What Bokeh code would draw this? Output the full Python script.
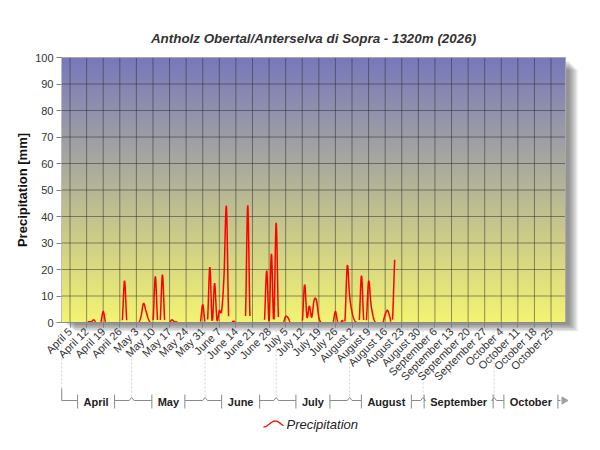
import numpy as np
from bokeh.plotting import figure
from bokeh.models import Range1d, FixedTicker
from bokeh.embed import file_html
from bokeh.resources import INLINE
from bokeh.core.properties import value

# ---------------- data ----------------
title_text = "Antholz Obertal/Anterselva di Sopra - 1320m (2026)"
y_label = "Precipitation [mm]"
series_name = "Precipitation"

# daily precipitation [mm], index 0 = April 1, last value = August 20
precip = [
    0, 0, 0, 0, 0, 0, 0, 0, 0, 0, 0, 0,            # Apr 1-12
    0.3, 0.3, 1.0, 0, 0, 0, 4.2,                   # Apr 13-19
    0, 0, 0, 0, 0, 0, 0, 0,                        # Apr 20-27
    15.8,                                          # Apr 28
    0, 0, 0, 0, 0, 0,                              # Apr 29 - May 4
    2.5, 7.2, 4.5, 1.5, 0, 0, 17.4, 0, 0, 18.0,    # May 5-14
    0, 0, 0, 1.0, 0.3, 0.2,                        # May 15-20
    0, 0, 0, 0, 0, 0, 0, 0, 0, 0,                  # May 21-30
    6.7, 0, 0, 20.9, 0, 14.8, 1.0, 4.5, 4.5, 18.0, 43.8, 0, 0, 0.5,  # May 31 - Jun 13
    0, 0, 0, 0, 0,                                 # Jun 14-18
    44.2,                                          # Jun 19
    0, 0, 0, 0, 0, 0, 0,                           # Jun 20-26
    19.6, 0.5, 25.9, 0, 37.6,                      # Jun 27 - Jul 1
    0, 0, 0, 2.3, 1.8,                             # Jul 2-6
    0, 0, 0, 0, 0, 0,                              # Jul 7-12
    14.3, 2.0, 6.2, 2.0, 8.4, 8.4, 2.0,            # Jul 13-19
    0, 0, 0, 0, 0, 0,                              # Jul 20-25
    4.2, 0, 0, 0.8, 0.4, 21.5, 10.0, 4.0, 1.0, 0, 0, 17.7, 0, 0, 15.6, 7.0, 2.0,  # Jul 26 - Aug 11
    0, 0, 0, 0,                                    # Aug 12-15
    3.0, 4.6, 2.0, 0, 23.7,                        # Aug 16-20
]
day_index = list(range(len(precip)))

tick_days = list(range(4, 208, 7))
tick_labels = ["April 5", "April 12", "April 19", "April 26",
               "May 3", "May 10", "May 17", "May 24", "May 31",
               "June 7", "June 14", "June 21", "June 28",
               "July 5", "July 12", "July 19", "July 26",
               "August 2", "August 9", "August 16", "August 23", "August 30",
               "September 6", "September 13", "September 20", "September 27",
               "October 4", "October 11", "October 18", "October 25"]
y_ticks = [0, 10, 20, 30, 40, 50, 60, 70, 80, 90, 100]

month_names = ["April", "May", "June", "July", "August", "September", "October"]
month_start = [0, 30, 61, 91, 122, 153, 183]
month_end = [30, 61, 91, 122, 153, 183, 214]

# ---------------- layout constants ----------------
FONT = "Liberation Sans"
W, H = 596, 446
LEFT, TOP = 61, 57
PLOT_R, PLOT_B = 565, 322          # plot-area right / bottom edge (px)
DAY0, DAY1 = 0.4, 213.1
Y0, Y1 = 0, 100
PPD = (PLOT_R - LEFT) / (DAY1 - DAY0)    # px per day
PPM = (PLOT_B - TOP) / (Y1 - Y0)         # px per mm


def dx(px):      # pixel column -> day coordinate
    return (px - LEFT) / PPD + DAY0


def dy(py):      # pixel row -> mm coordinate
    return (PLOT_B - py) / PPM


def catmull_rom(x, y, n=12):
    x = np.asarray(x, float)
    y = np.asarray(y, float)
    m = np.zeros_like(y)
    m[1:-1] = (y[2:] - y[:-2]) / 2.0
    m[0] = y[1] - y[0]
    m[-1] = y[-1] - y[-2]
    xs, ys = [], []
    for i in range(len(x) - 1):
        t = np.linspace(0, 1, n, endpoint=False)
        h00 = 2 * t**3 - 3 * t**2 + 1
        h10 = t**3 - 2 * t**2 + t
        h01 = -2 * t**3 + 3 * t**2
        h11 = t**3 - t**2
        xs.extend(x[i] + t * (x[i + 1] - x[i]))
        ys.extend(h00 * y[i] + h10 * m[i] + h01 * y[i + 1] + h11 * m[i + 1])
    xs.append(x[-1])
    ys.append(y[-1])
    return np.array(xs), np.array(ys)


p = figure(width=W, height=H, x_range=Range1d(dx(0), dx(W)), y_range=Range1d(dy(H), dy(0)),
           output_backend="svg", toolbar_location=None,
           min_border_left=0, min_border_right=0, min_border_top=0, min_border_bottom=0)
p.title.visible = False
p.background_fill_color = "white"
p.border_fill_color = "white"
p.outline_line_color = None
p.grid.visible = False

# soft drop shadow of the plot area
for k in (3, 5, 7, 9, 11):
    p.quad(left=dx(LEFT + k + 2), right=dx(PLOT_R + k + 1), top=dy(TOP + k + 1), bottom=dy(PLOT_B + k * 0.8),
           fill_color="#000000", fill_alpha=0.1, line_color=None, level="image")

# vertical gradient background of the plot area
n = 256
tt = np.linspace(0, 1, n)[:, None]
c_bot = np.array([244, 244, 114])
c_top = np.array([120, 120, 188])
cols = (c_bot + (c_top - c_bot) * tt).astype(np.uint8)
img = np.zeros((n, 1), dtype=np.uint32)
view = img.view(dtype=np.uint8).reshape((n, 1, 4))
view[:, 0, 0] = cols[:, 0]
view[:, 0, 1] = cols[:, 1]
view[:, 0, 2] = cols[:, 2]
view[:, 0, 3] = 255
p.image_rgba(image=[img], x=DAY0, y=Y0, dw=DAY1 - DAY0, dh=Y1 - Y0, level="image")

# grid lines (inside the plot area only)
p.segment(x0=tick_days, x1=tick_days, y0=[Y0] * len(tick_days), y1=[Y1] * len(tick_days),
          line_color="#2a2a2a", line_alpha=0.5, line_width=1)
p.segment(x0=[DAY0] * len(y_ticks), x1=[DAY1] * len(y_ticks), y0=y_ticks, y1=y_ticks,
          line_color="#2a2a2a", line_alpha=0.5, line_width=1)

# precipitation spline (parts at / below zero are hidden by the axis band)
sx, sy = catmull_rom(day_index, precip)
sy = np.where(sy < 0.12, np.nan, sy)
p.line(sx, sy, line_color="#ff0000", line_width=1.5)

# plot-area border
p.quad(left=[DAY0], right=[DAY1], top=[Y1], bottom=[Y0], fill_color=None,
       line_color="#a8a8a8", line_width=1)

# title and y-axis title
p.text(x=[dx(313)], y=[dy(38)], text=[title_text], text_align="center", text_baseline="middle",
       text_font=value(FONT), text_font_size="13.4px", text_font_style="bold italic",
       text_color="#333333")
p.text(x=[dx(22)], y=[dy(189.5)], text=[y_label], angle=np.pi / 2,
       text_align="center", text_baseline="middle",
       text_font=value(FONT), text_font_size="13px", text_font_style="bold",
       text_color="#111111")

# axes (placed at the plot-area edges)
p.xaxis.ticker = FixedTicker(ticks=tick_days)
p.xaxis.major_label_overrides = {d: lab for d, lab in zip(tick_days, tick_labels)}
p.xaxis.major_label_orientation = np.pi / 4
p.xaxis.fixed_location = Y0
p.xaxis.bounds = (DAY0, DAY1)
p.yaxis.ticker = FixedTicker(ticks=y_ticks)
p.yaxis.fixed_location = DAY0
p.yaxis.bounds = (Y0, Y1)
for ax in (p.xaxis, p.yaxis):
    ax.major_label_text_font = FONT
    ax.major_label_text_font_size = "11px"
    ax.major_label_text_color = "#333333"
    ax.minor_tick_line_color = None
    ax.major_tick_in = 0
    ax.major_tick_out = 5
    ax.major_tick_line_color = "#808080"
p.yaxis.axis_line_color = "#bdbdbd"
p.xaxis.axis_line_color = "#8a8a8a"
p.yaxis.major_label_standoff = 3
p.xaxis.major_label_standoff = 2

# ---------------- month band ----------------
label_px = {"April": 25, "May": 21, "June": 26, "July": 22, "August": 38,
            "September": 57, "October": 42}
Y_LINE, Y_CARET, Y_T0, Y_T1, Y_TALL, Y_DASH0 = 400, 397, 394, 408, 388, 330
lefts, rights, centers = [], [], []
for name, s, e in zip(month_names, month_start, month_end):
    c = (s + e) / 2
    hw = (label_px[name] / 2 + 6) / PPD
    lefts.append(max(c - hw, s))
    rights.append(min(c + hw, e))
    centers.append(c)

solid_x, solid_y = [], []
dash_x, dash_y = [], []
x_first = DAY0 + 0.1
dash_x.append([x_first, x_first]); dash_y.append([dy(Y_DASH0), dy(Y_TALL)])
solid_x.append([x_first, x_first, lefts[0]]); solid_y.append([dy(Y_TALL), dy(Y_LINE), dy(Y_LINE)])
for i in range(len(month_names)):
    l, r, s, e = lefts[i], rights[i], month_start[i], month_end[i]
    if l > s + 1e-6:
        solid_x.append([l, l]); solid_y.append([dy(Y_T0), dy(Y_T1)])
    if r < e - 1e-6:
        solid_x.append([r, r]); solid_y.append([dy(Y_T0), dy(Y_T1)])
    if i + 1 < len(month_names):
        b = e
        nl = lefts[i + 1]
        if r >= b - 1e-6 or nl <= b + 1e-6:
            dash_x.append([b, b]); dash_y.append([dy(Y_DASH0), dy(Y_TALL)])
            solid_x.append([b, b]); solid_y.append([dy(Y_TALL), dy(Y_T1)])
            if r < b:
                solid_x.append([r, b]); solid_y.append([dy(Y_LINE), dy(Y_LINE)])
            if nl > b:
                solid_x.append([b, nl]); solid_y.append([dy(Y_LINE), dy(Y_LINE)])
        else:
            d1 = 1.0
            solid_x.append([r, b - d1, b, b + d1, nl])
            solid_y.append([dy(Y_LINE), dy(Y_LINE), dy(Y_CARET), dy(Y_LINE), dy(Y_LINE)])
            dash_x.append([b, b]); dash_y.append([dy(Y_DASH0), dy(Y_CARET)])
    else:
        solid_x.append([r, dx(560)]); solid_y.append([dy(Y_LINE), dy(Y_LINE)])

p.multi_line(dash_x, dash_y, line_color="#d2d2d2", line_width=1, line_dash="2 2")
p.multi_line(solid_x, solid_y, line_color="#8a8a8a", line_width=1)
p.scatter(x=[dx(563.5)], y=[dy(Y_LINE)], marker="triangle", angle=-np.pi / 2,
          size=7, fill_color="#a0a0a0", line_color="#a0a0a0")
p.text(x=centers, y=[dy(401)] * len(centers), text=month_names,
       text_align="center", text_baseline="middle",
       text_font=value(FONT), text_font_size="11px", text_font_style="bold",
       text_color="#222222")

# ---------------- legend ----------------
wx = np.linspace(0, 1, 30)
icon_x = dx(263) + wx * (20 / PPD)
icon_y = dy(423.5) - (3.0 / PPM) * np.cos(np.pi * 1.7 * wx)
p.line(icon_x, icon_y, line_color="#ff0000", line_width=1.3)
p.text(x=[dx(286)], y=[dy(424)], text=[series_name], text_align="left",
       text_baseline="middle", text_font=value(FONT), text_font_size="13px",
       text_font_style="italic", text_color="#222222")

open("out.html", "w").write(file_html(p, INLINE))
